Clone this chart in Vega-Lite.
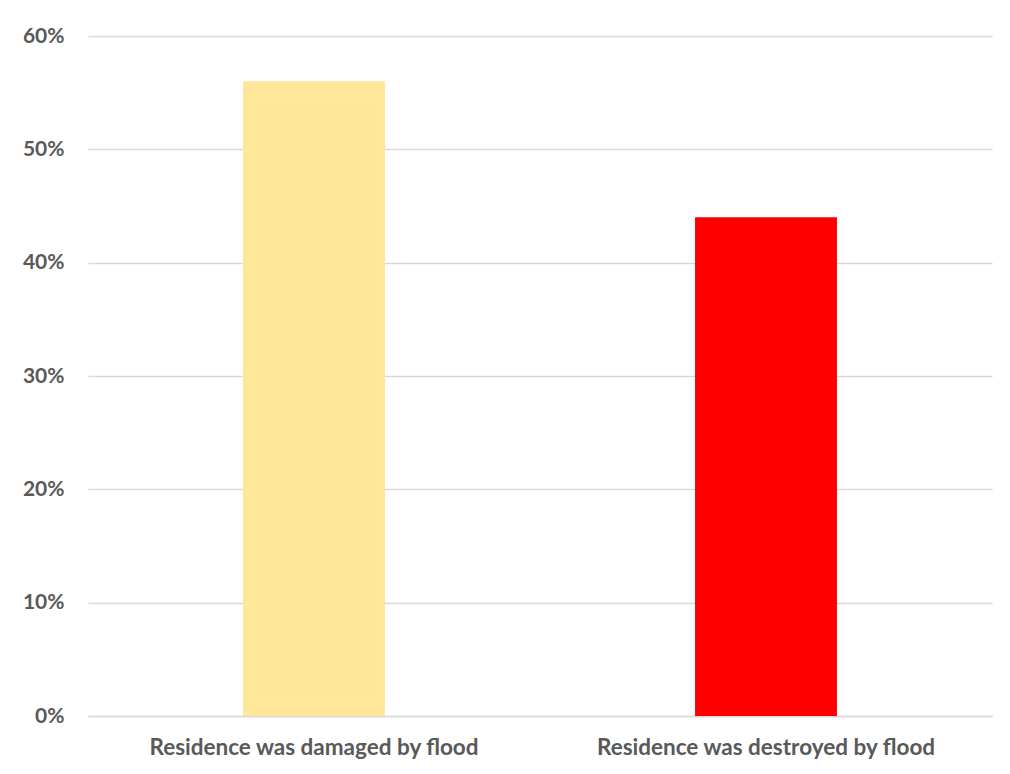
{
  "$schema": "https://vega.github.io/schema/vega-lite/v6.json",
  "width": 904,
  "height": 680,
  "autosize": {"type": "none"},
  "padding": {"left": 88, "top": 36, "right": 18, "bottom": 58},
  "background": "white",
  "config": {
    "view": {"stroke": null},
    "font": "Lato"
  },
  "data": {
    "values": [
      {"category": "Residence was damaged by flood", "share": 0.56, "color": "#FFE699"},
      {"category": "Residence was destroyed by flood", "share": 0.44, "color": "#FF0000"}
    ]
  },
  "mark": {"type": "bar", "width": {"band": 0.314}},
  "encoding": {
    "x": {
      "field": "category",
      "type": "nominal",
      "sort": null,
      "scale": {"paddingInner": 0, "paddingOuter": 0},
      "axis": {
        "title": null,
        "labelAngle": 0,
        "labelLimit": 0,
        "labelFont": "Lato",
        "labelFontSize": 22.5,
        "labelFontWeight": "bold",
        "labelColor": "#595959",
        "labelPadding": 20,
        "ticks": false,
        "domain": true,
        "domainColor": "#d9d9d9",
        "domainWidth": 1.5
      }
    },
    "y": {
      "field": "share",
      "type": "quantitative",
      "scale": {"domain": [0, 0.6]},
      "axis": {
        "title": null,
        "format": ".0%",
        "values": [0, 0.1, 0.2, 0.3, 0.4, 0.5, 0.6],
        "labelFont": "Lato",
        "labelFontSize": 21,
        "labelFontWeight": "bold",
        "labelColor": "#595959",
        "labelPadding": 24,
        "ticks": false,
        "domain": false,
        "grid": true,
        "gridColor": "#d9d9d9",
        "gridWidth": 1.5
      }
    },
    "color": {"field": "color", "type": "nominal", "scale": null, "legend": null}
  }
}
